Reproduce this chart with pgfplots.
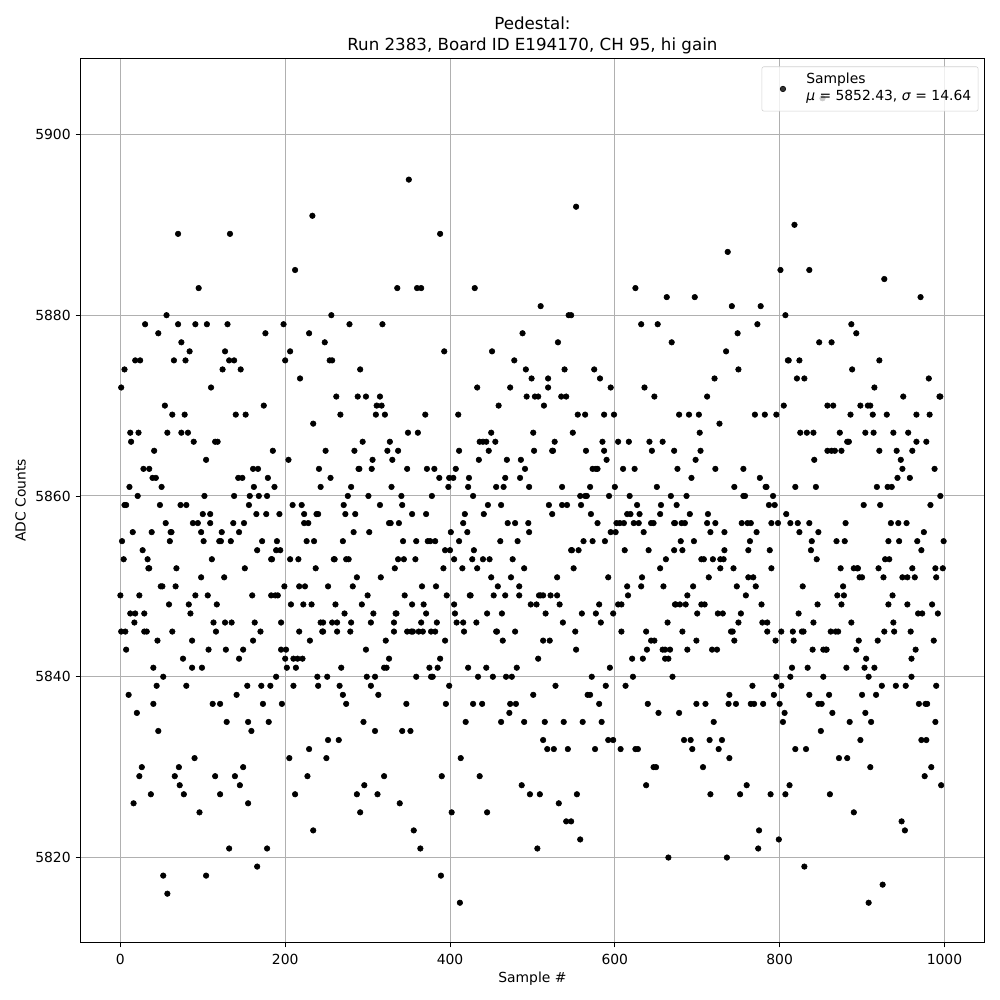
\documentclass[border=0pt]{standalone}
\usepackage{fontspec}
\setmainfont{DejaVu Sans}
\usepackage{pgfplots}
\pgfplotsset{compat=1.18}
\pgfplotsset{samplelegend/.style={legend image code/.code={\path[draw=none,fill=none] (0pt,0pt) -- (27pt,-18pt); \draw[mark repeat=1,mark phase=1,##1] plot coordinates {(12.2pt,-4pt)};}}}
\begin{document}
\begin{tikzpicture}
\begin{axis}[
  name=ax, at={(0,0)}, anchor=south west,
  scale only axis, width=650.88pt, height=636.48pt,
  xmin=-48.5, xmax=1048.5, ymin=5810.6, ymax=5908.4,
  xtick={0,200,400,600,800,1000}, ytick={5820,5840,5860,5880,5900},
  /pgf/number format/assume math mode=true,
  /pgf/number format/1000 sep={},
  scaled ticks=false,
  tick style={black, line width=0.6pt}, major tick length=3.5pt, tick align=outside,
  xtick pos=bottom, ytick pos=left,
  axis line style={line width=0.6pt},
  grid=major, grid style={color=black!31, line width=0.7pt},
  tick label style={font=\fontsize{10}{12}\selectfont},
  label style={font=\fontsize{10}{12}\selectfont},
  xticklabel style={yshift=-1.5pt},
  xlabel style={yshift=1.5pt},
  xlabel={Sample \#}, ylabel={ADC Counts},
  title style={font=\fontsize{12}{15}\selectfont, align=center, yshift=-6pt},
  title={Pedestal:\\Run 2383, Board ID E194170, CH 95, hi gain},
  legend style={at={(0.9934,0.991)}, anchor=north east, draw=black!18, fill=white, fill opacity=0.8, text opacity=1, rounded corners=1.5pt, font=\fontsize{10}{12}\selectfont},
  legend cell align=left,
]
\addplot[only marks, mark=*, mark size=2pt, black, mark options={draw=none, fill=black}, samplelegend] coordinates {
(852,5904)
(350,5895)
(553,5892) (233,5891)
(818,5890)
(70,5889) (133,5889) (388,5889)
(737,5887)
(212,5885) (801,5885) (836,5885)
(927,5884)
(95,5883) (336,5883) (360,5883) (365,5883) (430,5883) (625,5883)
(663,5882) (697,5882) (971,5882)
(510,5881) (742,5881) (777,5881)
(56,5880) (256,5880) (544,5880) (547,5880) (807,5880)
(30,5879) (70,5879) (91,5879) (105,5879) (130,5879) (198,5879) (278,5879) (318,5879) (632,5879) (652,5879) (773,5879) (887,5879)
(46,5878) (176,5878) (229,5878) (488,5878) (749,5878) (893,5878)
(74,5877) (248,5877) (531,5877) (669,5877) (848,5877) (863,5877)
(84,5876) (127,5876) (206,5876) (393,5876) (451,5876) (735,5876)
(18,5875) (24,5875) (65,5875) (79,5875) (132,5875) (138,5875) (200,5875) (254,5875) (257,5875) (478,5875) (810,5875) (811,5875) (824,5875) (921,5875)
(5,5874) (124,5874) (146,5874) (291,5874) (492,5874) (539,5874) (575,5874) (750,5874) (888,5874)
(218,5873) (499,5873) (519,5873) (582,5873) (721,5873) (821,5873) (830,5873) (981,5873)
(1,5872) (110,5872) (433,5872) (473,5872) (519,5872) (595,5872) (636,5872) (915,5872)
(262,5871) (288,5871) (298,5871) (315,5871) (493,5871) (503,5871) (507,5871) (535,5871) (541,5871) (648,5871) (712,5871) (950,5871) (994,5871) (995,5871)
(54,5870) (174,5870) (311,5870) (317,5870) (459,5870) (514,5870) (805,5870) (858,5870) (865,5870) (898,5870) (907,5870) (910,5870)
(63,5869) (78,5869) (140,5869) (152,5869) (267,5869) (310,5869) (321,5869) (370,5869) (410,5869) (555,5869) (564,5869) (587,5869) (599,5869) (678,5869) (690,5869) (702,5869) (770,5869) (782,5869) (796,5869) (886,5869) (913,5869) (930,5869) (966,5869) (982,5869)
(234,5868) (727,5868)
(12,5867) (22,5867) (57,5867) (74,5867) (82,5867) (349,5867) (361,5867) (450,5867) (501,5867) (549,5867) (703,5867) (825,5867) (833,5867) (841,5867) (873,5867) (904,5867) (914,5867) (938,5867) (956,5867)
(13,5866) (89,5866) (115,5866) (118,5866) (294,5866) (327,5866) (436,5866) (440,5866) (444,5866) (455,5866) (527,5866) (585,5866) (604,5866) (617,5866) (642,5866) (658,5866) (882,5866) (884,5866) (966,5866) (978,5866)
(41,5865) (185,5865) (249,5865) (284,5865) (324,5865) (337,5865) (411,5865) (447,5865) (502,5865) (524,5865) (525,5865) (565,5865) (587,5865) (645,5865) (672,5865) (704,5865) (858,5865) (863,5865) (867,5865) (875,5865) (921,5865) (942,5865) (961,5865)
(104,5864) (204,5864) (306,5864) (330,5864) (435,5864) (469,5864) (486,5864) (590,5864) (698,5864) (842,5864) (947,5864)
(28,5863) (35,5863) (161,5863) (167,5863) (241,5863) (289,5863) (290,5863) (305,5863) (348,5863) (372,5863) (381,5863) (407,5863) (491,5863) (573,5863) (577,5863) (579,5863) (610,5863) (624,5863) (676,5863) (722,5863) (756,5863) (949,5863) (988,5863)
(39,5862) (43,5862) (143,5862) (148,5862) (179,5862) (255,5862) (387,5862) (399,5862) (404,5862) (423,5862) (467,5862) (485,5862) (693,5862) (776,5862) (943,5862) (958,5862)
(11,5861) (50,5861) (162,5861) (187,5861) (243,5861) (280,5861) (329,5861) (398,5861) (422,5861) (456,5861) (465,5861) (496,5861) (536,5861) (570,5861) (600,5861) (651,5861) (745,5861) (783,5861) (784,5861) (819,5861) (844,5861) (918,5861) (931,5861) (936,5861)
(21,5860) (102,5860) (138,5860) (157,5860) (168,5860) (178,5860) (276,5860) (301,5860) (341,5860) (378,5860) (428,5860) (558,5860) (564,5860) (566,5860) (593,5860) (618,5860) (668,5860) (687,5860) (756,5860) (758,5860) (792,5860) (995,5860)
(5,5859) (7,5859) (48,5859) (73,5859) (80,5859) (156,5859) (209,5859) (220,5859) (271,5859) (315,5859) (342,5859) (446,5859) (462,5859) (520,5859) (536,5859) (542,5859) (559,5859) (627,5859) (656,5859) (675,5859) (787,5859) (794,5859) (902,5859) (922,5859) (983,5859)
(100,5858) (109,5858) (165,5858) (177,5858) (193,5858) (223,5858) (238,5858) (240,5858) (273,5858) (285,5858) (354,5858) (371,5858) (418,5858) (441,5858) (524,5858) (571,5858) (615,5858) (619,5858) (630,5858) (655,5858) (691,5858) (713,5858) (808,5858)
(55,5857) (88,5857) (94,5857) (109,5857) (137,5857) (150,5857) (223,5857) (228,5857) (326,5857) (328,5857) (338,5857) (416,5857) (470,5857) (479,5857) (495,5857) (579,5857) (602,5857) (606,5857) (611,5857) (623,5857) (629,5857) (644,5857) (647,5857) (672,5857) (673,5857) (681,5857) (685,5857) (712,5857) (722,5857) (754,5857) (761,5857) (765,5857) (790,5857) (798,5857) (813,5857) (822,5857) (836,5857) (880,5857) (935,5857) (944,5857) (954,5857)
(15,5856) (38,5856) (61,5856) (62,5856) (98,5856) (123,5856) (144,5856) (283,5856) (302,5856) (401,5856) (421,5856) (496,5856) (595,5856) (601,5856) (635,5856) (716,5856) (733,5856) (772,5856) (824,5856) (847,5856) (975,5856)
(2,5855) (60,5855) (101,5855) (120,5855) (122,5855) (134,5855) (172,5855) (190,5855) (226,5855) (235,5855) (270,5855) (343,5855) (359,5855) (373,5855) (376,5855) (382,5855) (411,5855) (461,5855) (482,5855) (562,5855) (573,5855) (588,5855) (680,5855) (696,5855) (764,5855) (839,5855) (869,5855) (879,5855) (932,5855) (945,5855) (967,5855) (999,5855)
(27,5854) (166,5854) (189,5854) (194,5854) (394,5854) (400,5854) (429,5854) (547,5854) (548,5854) (556,5854) (612,5854) (641,5854) (672,5854) (682,5854) (733,5854) (762,5854) (788,5854) (838,5854) (972,5854)
(4,5853) (33,5853) (111,5853) (183,5853) (184,5853) (206,5853) (216,5853) (259,5853) (260,5853) (274,5853) (277,5853) (337,5853) (344,5853) (358,5853) (405,5853) (427,5853) (440,5853) (448,5853) (476,5853) (662,5853) (705,5853) (708,5853) (719,5853) (728,5853) (732,5853) (845,5853) (928,5853) (933,5853)
(34,5852) (35,5852) (68,5852) (151,5852) (237,5852) (333,5852) (392,5852) (415,5852) (433,5852) (490,5852) (550,5852) (655,5852) (728,5852) (744,5852) (790,5852) (874,5852) (890,5852) (894,5852) (895,5852) (920,5852) (961,5852) (989,5852) (998,5852)
(98,5851) (126,5851) (287,5851) (316,5851) (450,5851) (474,5851) (530,5851) (592,5851) (633,5851) (714,5851) (762,5851) (768,5851) (897,5851) (900,5851) (926,5851) (949,5851) (955,5851) (964,5851) (990,5851)
(49,5850) (51,5850) (67,5850) (199,5850) (217,5850) (224,5850) (252,5850) (282,5850) (366,5850) (383,5850) (458,5850) (484,5850) (615,5850) (632,5850) (659,5850) (695,5850) (748,5850) (771,5850) (828,5850) (877,5850)
(0,5849) (23,5849) (91,5849) (106,5849) (160,5849) (183,5849) (188,5849) (191,5849) (300,5849) (345,5849) (396,5849) (424,5849) (425,5849) (453,5849) (467,5849) (484,5849) (508,5849) (510,5849) (513,5849) (522,5849) (530,5849) (616,5849) (688,5849) (759,5849) (870,5849) (878,5849) (937,5849)
(59,5848) (83,5848) (117,5848) (207,5848) (222,5848) (232,5848) (261,5848) (293,5848) (354,5848) (368,5848) (405,5848) (498,5848) (505,5848) (533,5848) (581,5848) (604,5848) (608,5848) (673,5848) (674,5848) (679,5848) (686,5848) (705,5848) (709,5848) (778,5848) (846,5848) (875,5848) (932,5848) (955,5848) (985,5848)
(12,5847) (18,5847) (29,5847) (85,5847) (272,5847) (307,5847) (334,5847) (335,5847) (371,5847) (406,5847) (445,5847) (463,5847) (516,5847) (560,5847) (577,5847) (598,5847) (700,5847) (725,5847) (731,5847) (753,5847) (823,5847) (968,5847) (973,5847) (992,5847)
(17,5846) (113,5846) (127,5846) (135,5846) (163,5846) (195,5846) (243,5846) (246,5846) (257,5846) (263,5846) (280,5846) (304,5846) (332,5846) (365,5846) (384,5846) (408,5846) (416,5846) (432,5846) (537,5846) (583,5846) (664,5846) (750,5846) (779,5846) (785,5846) (841,5846) (887,5846) (938,5846)
(1,5845) (6,5845) (29,5845) (32,5845) (63,5845) (116,5845) (170,5845) (217,5845) (245,5845) (246,5845) (263,5845) (279,5845) (332,5845) (348,5845) (353,5845) (355,5845) (362,5845) (367,5845) (377,5845) (382,5845) (417,5845) (456,5845) (457,5845) (479,5845) (552,5845) (608,5845) (638,5845) (682,5845) (741,5845) (743,5845) (785,5845) (802,5845) (816,5845) (827,5845) (829,5845) (862,5845) (868,5845) (871,5845) (927,5845) (939,5845) (959,5845)
(45,5844) (87,5844) (161,5844) (230,5844) (322,5844) (394,5844) (464,5844) (513,5844) (521,5844) (644,5844) (648,5844) (699,5844) (745,5844) (795,5844) (817,5844) (896,5844) (919,5844) (987,5844)
(7,5843) (107,5843) (128,5843) (149,5843) (195,5843) (201,5843) (298,5843) (553,5843) (639,5843) (658,5843) (661,5843) (667,5843) (688,5843) (718,5843) (724,5843) (840,5843) (853,5843) (856,5843) (857,5843) (893,5843) (965,5843)
(76,5842) (144,5842) (200,5842) (210,5842) (215,5842) (221,5842) (326,5842) (388,5842) (507,5842) (621,5842) (634,5842) (661,5842) (665,5842) (905,5842) (960,5842)
(40,5841) (87,5841) (99,5841) (202,5841) (213,5841) (268,5841) (320,5841) (323,5841) (375,5841) (385,5841) (422,5841) (444,5841) (481,5841) (594,5841) (815,5841) (834,5841) (881,5841) (903,5841) (915,5841)
(52,5840) (189,5840) (239,5840) (251,5840) (299,5840) (309,5840) (359,5840) (377,5840) (379,5840) (434,5840) (452,5840) (468,5840) (475,5840) (572,5840) (622,5840) (670,5840) (796,5840) (813,5840) (853,5840) (908,5840) (960,5840)
(44,5839) (80,5839) (154,5839) (171,5839) (182,5839) (210,5839) (240,5839) (266,5839) (304,5839) (399,5839) (528,5839) (589,5839) (613,5839) (767,5839) (802,5839) (924,5839) (941,5839) (953,5839) (990,5839)
(10,5838) (141,5838) (270,5838) (313,5838) (501,5838) (567,5838) (570,5838) (739,5838) (793,5838) (836,5838) (860,5838) (900,5838) (917,5838)
(40,5837) (112,5837) (121,5837) (173,5837) (196,5837) (274,5837) (347,5837) (395,5837) (428,5837) (439,5837) (473,5837) (480,5837) (581,5837) (640,5837) (699,5837) (710,5837) (738,5837) (747,5837) (765,5837) (769,5837) (780,5837) (800,5837) (847,5837) (851,5837) (969,5837) (977,5837) (979,5837)
(20,5836) (472,5836) (653,5836) (678,5836) (806,5836) (864,5836) (904,5836)
(129,5835) (155,5835) (180,5835) (295,5835) (419,5835) (462,5835) (490,5835) (515,5835) (538,5835) (561,5835) (584,5835) (720,5835) (804,5835) (885,5835) (911,5835) (989,5835)
(46,5834) (159,5834) (309,5834) (342,5834) (352,5834) (850,5834)
(252,5833) (265,5833) (513,5833) (592,5833) (598,5833) (684,5833) (692,5833) (715,5833) (730,5833) (898,5833) (972,5833) (978,5833)
(229,5832) (518,5832) (526,5832) (543,5832) (576,5832) (607,5832) (625,5832) (628,5832) (694,5832) (726,5832) (819,5832) (832,5832)
(90,5831) (205,5831) (250,5831) (413,5831) (739,5831) (872,5831) (882,5831)
(26,5830) (71,5830) (149,5830) (647,5830) (650,5830) (707,5830) (910,5830) (984,5830)
(23,5829) (66,5829) (115,5829) (139,5829) (227,5829) (320,5829) (390,5829) (436,5829) (976,5829)
(72,5828) (145,5828) (296,5828) (487,5828) (638,5828) (760,5828) (812,5828) (996,5828)
(37,5827) (77,5827) (121,5827) (212,5827) (287,5827) (312,5827) (497,5827) (509,5827) (554,5827) (716,5827) (752,5827) (789,5827) (807,5827) (861,5827)
(16,5826) (155,5826) (339,5826) (532,5826)
(96,5825) (291,5825) (402,5825) (445,5825) (890,5825)
(541,5824) (547,5824) (948,5824)
(234,5823) (356,5823) (775,5823) (952,5823)
(558,5822) (799,5822)
(132,5821) (178,5821) (364,5821) (506,5821) (774,5821)
(665,5820) (736,5820)
(166,5819) (830,5819)
(52,5818) (104,5818) (389,5818)
(925,5817)
(57,5816)
(412,5815) (908,5815)
};
\addlegendentry{\begin{tabular}{@{}l@{}}Samples\\\textit{μ} = 5852.43, \textit{σ} = 14.64\end{tabular}}
\end{axis}
\path ([xshift=-57.9pt,yshift=-41.4pt]ax.south west) rectangle ([xshift=11.2pt,yshift=42.12pt]ax.north east);
\end{tikzpicture}
\end{document}
